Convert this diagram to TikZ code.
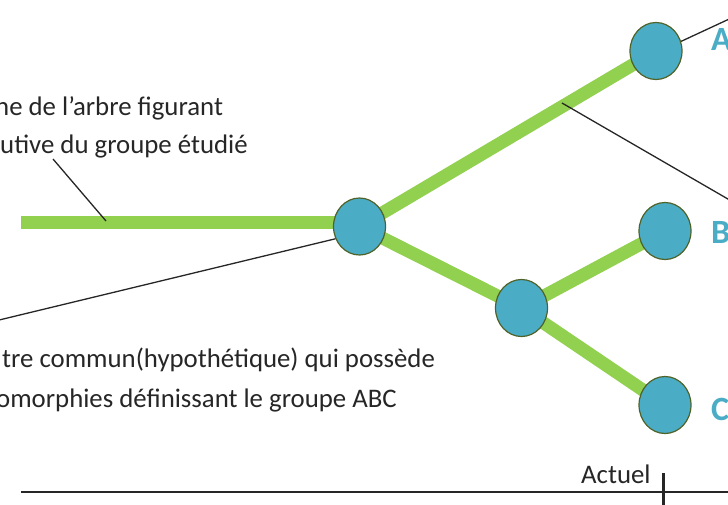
\documentclass[tikz,border=0pt]{standalone}
\usepackage{fontspec}
\setmainfont{Carlito}
\usetikzlibrary{shapes.geometric,backgrounds}
\definecolor{leaf}{HTML}{92D050}
\definecolor{taxon}{HTML}{4BACC6}
\definecolor{rim}{HTML}{4F6228}
\definecolor{ink}{HTML}{262626}
\begin{document}
\begin{tikzpicture}[x=1pt,y=-1pt,
  branch/.style={draw=leaf,line width=13pt},
  pointer/.style={draw=ink,line width=1.3pt},
  cladenode/.style={ellipse,draw=rim,line width=1.2pt,fill=taxon,
    minimum width=52pt,minimum height=57pt,inner sep=0pt},
  note/.style={font=\fontsize{26.8}{30}\selectfont,text=ink,inner sep=0pt,anchor=base west},
  tip/.style={font=\bfseries\fontsize{34}{38}\selectfont,text=taxon,inner sep=0pt,anchor=west}]
\useasboundingbox (0,0) rectangle (728,504);
\clip (0,0) rectangle (728,504);

% tree nodes
\node[cladenode] (root) at (359.5,226.5) {};
\node[cladenode] (mid)  at (521.5,308) {};
\node[cladenode] (na)   at (656,51) {};
\node[cladenode] (nb)   at (665,231) {};
\node[cladenode] (nc)   at (665,405) {};

% taxon labels
\node[tip] (la) at (711,39) {A};
\node[tip] (lb) at (711,232) {B};
\node[tip] (lc) at (711,409) {C};

% annotation texts
\node[note] (t1) at (-5,115) {ne de l’arbre figurant};
\node[note] (t2) at (0,153) {utive du groupe étudié};
\node[note] (t3) at (2,367) {tre commun(hypothétique) qui possède};
\node[note] (t4) at (-4,407) {omorphies définissant le groupe ABC};

% free ends of connectors
\coordinate (stem) at (21,222.5);
\coordinate (p1a) at (53,159);
\coordinate (p1b) at (106,221);
\coordinate (p2a) at (-5,321);
\coordinate (p3b) at (740,14);
\coordinate (p4a) at (562,103);
\coordinate (p4b) at (740,206);

% branches behind the nodes
\begin{scope}[on background layer]
  \draw[branch] (stem) -- (stem -| root.center);
  \draw[branch] (root.center) -- (na.center);
  \draw[branch] (root.center) -- (mid.center);
  \draw[branch] (mid.center) -- (nb.center);
  \draw[branch] (mid.center) -- (nc.center);
\end{scope}

% pointer lines
\draw[pointer] (p1a) -- (p1b);
\draw[pointer] (p2a) -- (root.207);
\draw[pointer] (na.21) -- (p3b);
\draw[pointer] (p4a) -- (p4b);

% time axis
\coordinate (ax0) at (21,492);
\coordinate (ax1) at (740,492);
\coordinate (tk0) at (663,473);
\coordinate (tk1) at (663,510);
\draw[ink,line width=1.5pt] (ax0) -- (ax1);
\draw[ink,line width=3pt] (tk0) -- (tk1);
\node[font=\fontsize{26.8}{30}\selectfont,text=ink,inner sep=0pt,anchor=base west] (now) at (581,483) {Actuel};
\end{tikzpicture}
\end{document}
